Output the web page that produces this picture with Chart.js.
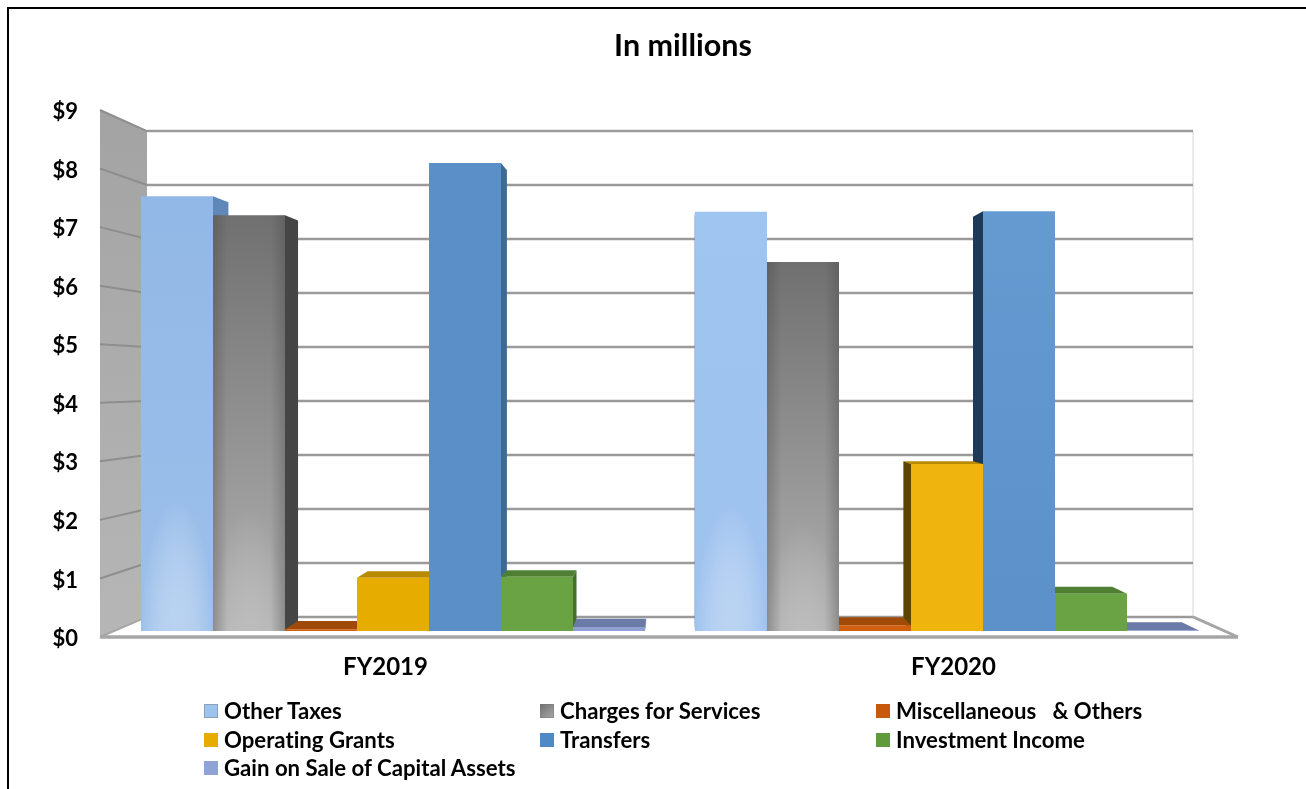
<!DOCTYPE html>
<html>
<head>
<meta charset="utf-8">
<title>In millions</title>
<script src="https://cdn.jsdelivr.net/npm/chart.js@4"></script>
<style>
    html, body { margin: 0; padding: 0; background: #fff; overflow: hidden; }
    #page { position: relative; width: 1306px; height: 789px; font-family: Lato, sans-serif; font-weight: 700; color: #000; font-variant-ligatures: none; }
    #frame { position: absolute; left: 7px; top: 7px; width: 1299px; height: 782px; border-left: 2px solid #000; border-top: 2px solid #000; box-sizing: border-box; }
    #heading { position: absolute; left: 483px; top: 26px; width: 400px; text-align: center; font-size: 30.5px; line-height: 36px; }
    #chart { position: absolute; left: 0; top: 0; }
    #legend { position: absolute; left: 204px; top: 697px; display: grid; grid-template-columns: 336px 336px 336px; grid-auto-rows: 28.6px; font-size: 22.2px; line-height: 28px; }
    #legend div { white-space: pre; display: flex; align-items: center; }
    #legend i { display: inline-block; width: 14px; height: 14px; margin-right: 6px; }
    #legend div:nth-child(-n+2) i { box-shadow: inset 0 0 0 1px rgba(120,120,120,0.45); }
</style>
</head>
<body>
<div id="page">
    <canvas id="chart" width="1306" height="789"></canvas>
    <div id="frame"></div>
    <div id="heading">In millions</div>
    <div id="legend"></div>
</div>
<script>
const fiscalYears = ['FY2019', 'FY2020'];
const yTicks = [0, 1, 2, 3, 4, 5, 6, 7, 8, 9];

const otherTaxes = [7.6, 7.33];
const chargesForServices = [7.27, 6.45];
const miscellaneous = [0.03, 0.1];
const operatingGrants = [0.93, 2.92];
const transfers = [8.18, 7.34];
const investmentIncome = [0.95, 0.65];
const gainOnSale = [0.07, 0.01];

const seriesNames = ['Other Taxes', 'Charges for Services', 'Miscellaneous   & Others',
    'Operating Grants', 'Transfers', 'Investment Income', 'Gain on Sale of Capital Assets'];
const seriesValues = [otherTaxes, chargesForServices, miscellaneous,
    operatingGrants, transfers, investmentIncome, gainOnSale];

const frontColors = ['#9bc1ee', '#8c8c8c', '#d0600f', '#ebb008', '#5b8fc7', '#6aa343', '#8d9fd3'];
const topColors = ['#8fb6e6', '#6f6f6f', '#a04a0a', '#b78a00', '#5d92ca', '#4f7f32', '#6b7aa6'];
const rightColors = ['#5f87b7', '#454545', '#7a3806', '#8a6700', '#3d6a96', '#44702a', '#5c6a94'];
const leftColors = ['#6f8fb5', '#4e4e4e', '#6a3005', '#5c4300', '#1f3a56', '#35561f', '#4f5c84'];
const legendSwatches = ['#9cc4ee', 'linear-gradient(135deg,#6f6f6f,#a8a8a8)', '#c8590c', '#e6ad00', '#4f8ac4', '#5f9a3c', '#8fa3d6'];

// shift of each category caption from its group centre
const captionShift = [-7.5, 6.5];

// 3D look: everything recedes toward one vanishing point
const vanishX = 680;
const vanishY = 380;
const barDepth = 0.033;
const wallDepth = 0.078;
const wallBackLeft = 147;
const wallBackRight = 1193;
const wallFrontLeft = 100;
const wallFrontRight = 1238;

function recede(x, y, depth) {
    return [x + (vanishX - x) * depth, y + (vanishY - y) * depth];
}

function fillPoly(ctx, pts, color) {
    ctx.beginPath();
    pts.forEach((p, i) => i ? ctx.lineTo(p[0], p[1]) : ctx.moveTo(p[0], p[1]));
    ctx.closePath();
    ctx.fillStyle = color;
    ctx.fill();
}

function strokeLine(ctx, x1, y1, x2, y2, color, width) {
    ctx.beginPath();
    ctx.moveTo(x1, y1);
    ctx.lineTo(x2, y2);
    ctx.strokeStyle = color;
    ctx.lineWidth = width;
    ctx.stroke();
}

function frontFill(context) {
    const i = context.datasetIndex;
    const j = context.dataIndex;
    const chart = context.chart;
    if (!chart.chartArea) return frontColors[i];
    const { top, bottom } = chart.chartArea;
    if (i === 0) {
        const g = chart.ctx.createLinearGradient(0, top, 0, bottom);
        g.addColorStop(0, j === 0 ? '#8fb6e6' : '#a0c5f1');
        g.addColorStop(1, j === 0 ? '#9dc0ea' : '#9fc2ee');
        return g;
    }
    if (i === 1) {
        const g = chart.ctx.createLinearGradient(0, j === 0 ? 215 : 262, 0, bottom);
        g.addColorStop(0, '#707070');
        g.addColorStop(1, '#b2b2b2');
        return g;
    }
    if (i === 3) return j === 0 ? '#e6ad00' : '#efb50e';
    if (i === 4 && j === 1) {
        const g = chart.ctx.createLinearGradient(0, top, 0, bottom);
        g.addColorStop(0, '#689dd4');
        g.addColorStop(1, '#5b90c8');
        return g;
    }
    return frontColors[i];
}

const chamberPlugin = {
    id: 'chamber',
    beforeDatasetsDraw(chart) {
        const ctx = chart.ctx;
        const y = chart.scales.y;
        const y0 = y.getPixelForValue(0);
        const y9 = y.getPixelForValue(9);
        const back = px => px + (vanishY - px) * wallDepth;

        // side wall
        const wall = ctx.createLinearGradient(0, y9, 0, y0);
        wall.addColorStop(0, '#a3a3a3');
        wall.addColorStop(1, '#b6b6b6');
        fillPoly(ctx, [[wallFrontLeft, y9], [wallBackLeft, back(y9)], [wallBackLeft, back(y0)], [wallFrontLeft, y0]], wall);

        // right edge of the back wall
        strokeLine(ctx, wallBackRight, back(y9), wallBackRight, back(y0), '#d6d6d6', 1);

        // grid lines on both walls
        yTicks.forEach(v => {
            const py = y.getPixelForValue(v);
            strokeLine(ctx, wallFrontLeft, py, wallBackLeft, back(py), v === 0 ? '#a6a6a6' : '#8e8e8e', 2);
            strokeLine(ctx, wallBackLeft, back(py), wallBackRight, back(py), '#9a9a9a', 2.5);
        });

        // floor outline
        strokeLine(ctx, wallBackRight, back(y0), wallFrontRight, y0, '#a6a6a6', 3);
        strokeLine(ctx, wallFrontLeft, y0, wallFrontRight, y0, '#a6a6a6', 3.5);

        // tops and sides go under every front face, outermost bars first
        const faces = [];
        chart.data.datasets.forEach((ds, i) => {
            chart.getDatasetMeta(i).data.forEach(bar => {
                const left = bar.x - bar.width / 2;
                const right = bar.x + bar.width / 2;
                faces.push({ i, left, right, top: bar.y, base: bar.base, dist: Math.abs(bar.x - vanishX) });
            });
        });
        faces.sort((a, b) => b.dist - a.dist);
        faces.forEach(f => {
            const lt = recede(f.left, f.top, barDepth);
            const rt = recede(f.right, f.top, barDepth);
            const lb = recede(f.left, f.base, barDepth);
            const rb = recede(f.right, f.base, barDepth);
            if (f.top > vanishY) {
                fillPoly(ctx, [[f.left, f.top], lt, rt, [f.right, f.top]], topColors[f.i]);
            }
            if (f.right < vanishX) {
                fillPoly(ctx, [[f.right, f.top], rt, rb, [f.right, f.base]], rightColors[f.i]);
            } else if (f.left > vanishX) {
                fillPoly(ctx, [[f.left, f.top], lt, lb, [f.left, f.base]], leftColors[f.i]);
            }
        });
    },
    afterDatasetsDraw(chart) {
        const ctx = chart.ctx;

        // soft glow at the foot of the first two series, darker side edges on the grey one
        [0, 1].forEach(i => {
            chart.getDatasetMeta(i).data.forEach(bar => {
                const left = bar.x - bar.width / 2;
                const h = bar.base - bar.y;
                ctx.save();
                ctx.beginPath();
                ctx.rect(left, bar.y, bar.width, h);
                ctx.clip();
                ctx.translate(bar.x, bar.base);
                ctx.scale(bar.width * 0.5, h * 0.3);
                const glow = ctx.createRadialGradient(0, 0, 0, 0, 0, 1);
                glow.addColorStop(0, i === 0 ? 'rgba(205,222,245,0.6)' : 'rgba(215,215,215,0.3)');
                glow.addColorStop(1, 'rgba(255,255,255,0)');
                ctx.fillStyle = glow;
                ctx.fillRect(-2, -2, 4, 4);
                ctx.restore();
                if (i === 1) {
                    const edge = ctx.createLinearGradient(left, 0, left + bar.width, 0);
                    edge.addColorStop(0, 'rgba(60,60,60,0.3)');
                    edge.addColorStop(0.2, 'rgba(60,60,60,0)');
                    edge.addColorStop(0.8, 'rgba(60,60,60,0)');
                    edge.addColorStop(1, 'rgba(60,60,60,0.3)');
                    ctx.fillStyle = edge;
                    ctx.fillRect(left, bar.y, bar.width, h);
                }
            });
        });

        // category captions under each group
        const x = chart.scales.x;
        ctx.save();
        ctx.font = '700 24px Lato, sans-serif';
        ctx.fillStyle = '#000';
        ctx.textAlign = 'center';
        ctx.textBaseline = 'middle';
        fiscalYears.forEach((name, j) => {
            ctx.fillText(name, x.getPixelForValue(j) + captionShift[j], 667);
        });
        ctx.restore();
    }
};

const legend = document.getElementById('legend');
seriesNames.forEach((name, i) => {
    const row = document.createElement('div');
    const swatch = document.createElement('i');
    swatch.style.background = legendSwatches[i];
    row.appendChild(swatch);
    row.appendChild(document.createTextNode(name));
    legend.appendChild(row);
});

new Chart(document.getElementById('chart'), {
    type: 'bar',
    data: {
        labels: fiscalYears,
        datasets: seriesNames.map((name, i) => ({
            label: name,
            data: seriesValues[i],
            yAxisID: 'yBars',
            backgroundColor: frontFill,
            borderWidth: 0,
            barPercentage: 1,
            categoryPercentage: 504 / 554
        }))
    },
    options: {
        responsive: false,
        animation: false,
        layout: { padding: { top: 110, right: 82, bottom: 152, left: 0 } },
        scales: {
            x: {
                display: false
            },
            // front edge of the walls, carries the dollar ticks
            y: {
                min: 0,
                max: 9,
                afterBuildTicks: axis => { axis.ticks = yTicks.map(value => ({ value })); },
                afterFit: axis => { axis.width = 116; },
                grid: { display: false },
                border: { display: false },
                ticks: {
                    callback: v => '$' + v,
                    color: '#000',
                    padding: 30,
                    labelOffset: 2,
                    font: { family: 'Lato, sans-serif', weight: '700', size: 22 }
                }
            },
            // plane of the bar fronts, set slightly back from the wall edge
            yBars: {
                display: false,
                min: -0.105,
                max: 9.108
            }
        },
        plugins: {
            legend: { display: false },
            tooltip: { enabled: false }
        }
    },
    plugins: [chamberPlugin]
});
</script>
</body>
</html>
